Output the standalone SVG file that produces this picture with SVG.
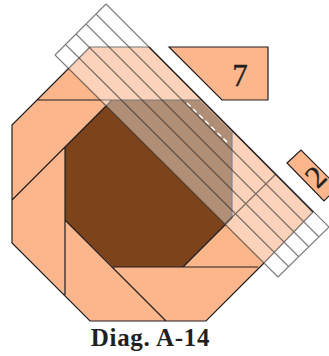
<svg xmlns="http://www.w3.org/2000/svg" width="329" height="356" viewBox="0 0 329 356">
<style>
.fab{fill:#fbb68c;stroke:none}
.ln{fill:none;stroke:#231f20;stroke-width:1.2}
.pc{fill:#fbb68c;stroke:#231f20;stroke-width:1.2}
.rl{fill:none;stroke:#2c2c2c;stroke-width:1.1;stroke-opacity:.62}
.num{font-family:"Liberation Serif",serif;font-size:31px;fill:#231f20;stroke:#231f20;stroke-width:.35}
</style>
<g id="block">
<polygon class="fab" points="90,47 149,47 313,212 264,263 206,321 90,321 12,243 12,125"/>
<polygon points="112,100 200,100 232,132 232,218 183,267 113,267 65,220 65,147" fill="#7d441c"/>
<path class="ln" d="M90,47H149M90,47L12,125V243L90,321H206L264,263M37,100H200M12,200L112,100M65,147V295M65,220L166,321M113,267H258M183,267L232,218"/>
<path d="M232,132V218" fill="none" stroke="#24365c" stroke-width="1.2"/>
</g>
<g id="ruler">
<polygon points="106,4 329,227 278,277 55,55" fill="#fff" fill-opacity=".4"/>
<path class="rl" d="M106,4L329,227M96,14L319,237M86,24L309,247M76,34L299,257M66,45L289,267M55,55L278,277M55,55L106,4M278,277L329,227M264,263L313,212M225,224L276,174"/>
</g>
<g id="connectors">
<path class="ln" d="M149,47L313,212"/>
<path d="M187,103L228,143" fill="none" stroke="#fff" stroke-width="1.5" stroke-dasharray="5 3.5"/>
</g>
<g id="piece-7">
<polygon class="pc" points="169,47 268,47 268,100 222,100"/>
<text class="num" x="240" y="85.500" text-anchor="middle">7</text>
</g>
<g id="piece-2">
<polygon class="pc" points="287,163 301,150 338,187 324,201"/>
<text class="num" x="0" y="0" text-anchor="middle" transform="translate(323,184) rotate(-45)">2</text>
</g>
<text id="caption" x="150.500" y="346" text-anchor="middle" font-family="'Liberation Serif',serif" font-weight="bold" font-size="25" letter-spacing=".7" fill="#231f20">Diag. A-14</text>
</svg>
